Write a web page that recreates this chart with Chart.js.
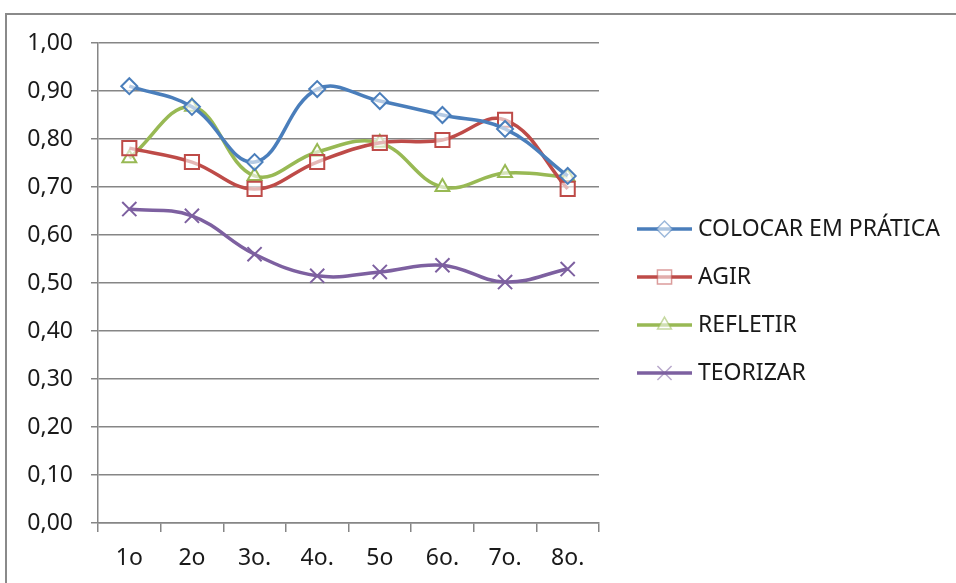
<!DOCTYPE html>
<html>
<head>
<meta charset="utf-8">
<script src="https://cdn.jsdelivr.net/npm/chart.js@4"></script>
<style>
    body { margin: 0; background: #fff; }
    #wrap { position: relative; width: 956px; height: 583px; }
    #frame {
        position: absolute; left: 5px; top: 13px; right: -4px; bottom: -4px;
        border-left: 2px solid #8a8a8a; border-top: 2px solid #8a8a8a;
    }
</style>
</head>
<body>
<div id="wrap">
    <div id="frame"></div>
    <canvas id="lineChart" width="956" height="583"></canvas>
</div>
<script>
const categories = ['1o', '2o', '3o.', '4o.', '5o', '6o.', '7o.', '8o.'];
const colocarEmPratica = [0.910, 0.867, 0.752, 0.904, 0.879, 0.850, 0.821, 0.723];
const agir = [0.781, 0.752, 0.696, 0.752, 0.792, 0.798, 0.840, 0.696];
const refletir = [0.760, 0.867, 0.723, 0.773, 0.792, 0.700, 0.729, 0.721];
const teorizar = [0.654, 0.640, 0.560, 0.515, 0.523, 0.537, 0.502, 0.529];

const FONT = "'Noto Sans', 'Open Sans', sans-serif";

function serie(label, data, color, pointStyle, radius) {
    return {
        label: label,
        data: data,
        borderColor: color,
        backgroundColor: '#ffffff',
        borderWidth: 3.5,
        tension: 0.4,
        pointStyle: pointStyle,
        pointRadius: radius,
        pointBorderWidth: 2,
        pointBorderColor: color,
        pointBackgroundColor: 'rgba(255,255,255,0.6)'
    };
}

/**
 * Legenda à direita com linha + marcador, ao estilo do Excel
 */
const sideLegend = {
    id: 'sideLegend',
    afterDraw(chart) {
        const ctx = chart.ctx;
        const x0 = 637, x1 = 692, top = 229, gap = 48;
        chart.data.datasets.forEach((ds, i) => {
            const y = top + i * gap;
            const mid = (x0 + x1) / 2;
            ctx.save();
            ctx.strokeStyle = ds.borderColor;
            ctx.lineWidth = 3.5;
            ctx.beginPath();
            ctx.moveTo(x0, y);
            ctx.lineTo(x1, y);
            ctx.stroke();
            // marcador claro por cima da linha
            ctx.fillStyle = '#ffffff';
            ctx.strokeStyle = ds.borderColor;
            ctx.globalAlpha = 0.55;
            ctx.lineWidth = 1.5;
            Chart.helpers.drawPoint(ctx, {
                pointStyle: ds.pointStyle,
                radius: ds.pointRadius,
                borderWidth: 1.5
            }, mid, y);
            ctx.restore();

            ctx.save();
            ctx.fillStyle = '#1a1a1a';
            ctx.font = '23px ' + FONT;
            ctx.textBaseline = 'middle';
            ctx.fillText(ds.label, x1 + 6, y);
            ctx.restore();
        });
    }
};

new Chart(document.getElementById('lineChart'), {
    type: 'line',
    data: {
        labels: categories,
        datasets: [
            serie('COLOCAR EM PRÁTICA', colocarEmPratica, '#4a7ebb', 'rectRot', 8),
            serie('AGIR', agir, '#be4b48', 'rect', 10),
            serie('REFLETIR', refletir, '#98b954', 'triangle', 8),
            serie('TEORIZAR', teorizar, '#7d60a0', 'crossRot', 10)
        ]
    },
    options: {
        responsive: false,
        devicePixelRatio: 1,
        animation: false,
        layout: { padding: { left: 0, top: 43, right: 357, bottom: 0 } },
        plugins: {
            legend: { display: false },
            tooltip: { enabled: false }
        },
        scales: {
            x: {
                offset: true,
                afterFit: (s) => { s.height = 60; },
                grid: {
                    offset: true,
                    drawOnChartArea: false,
                    drawTicks: true,
                    tickLength: 9,
                    color: '#868686',
                    lineWidth: 1.5
                },
                border: { color: '#868686', width: 1.5 },
                ticks: {
                    color: '#1a1a1a',
                    padding: 13,
                    font: { family: FONT, size: 23 }
                }
            },
            y: {
                min: 0,
                max: 1,
                afterFit: (s) => { s.width = 98; },
                grid: {
                    color: '#868686',
                    lineWidth: 1.5,
                    drawTicks: true,
                    tickLength: 7
                },
                border: { color: '#868686', width: 1.5 },
                ticks: {
                    stepSize: 0.1,
                    color: '#1a1a1a',
                    padding: 18,
                    font: { family: FONT, size: 23 },
                    callback: (v) => v.toFixed(2).replace('.', ',')
                }
            }
        }
    },
    plugins: [sideLegend]
});
</script>
</body>
</html>
